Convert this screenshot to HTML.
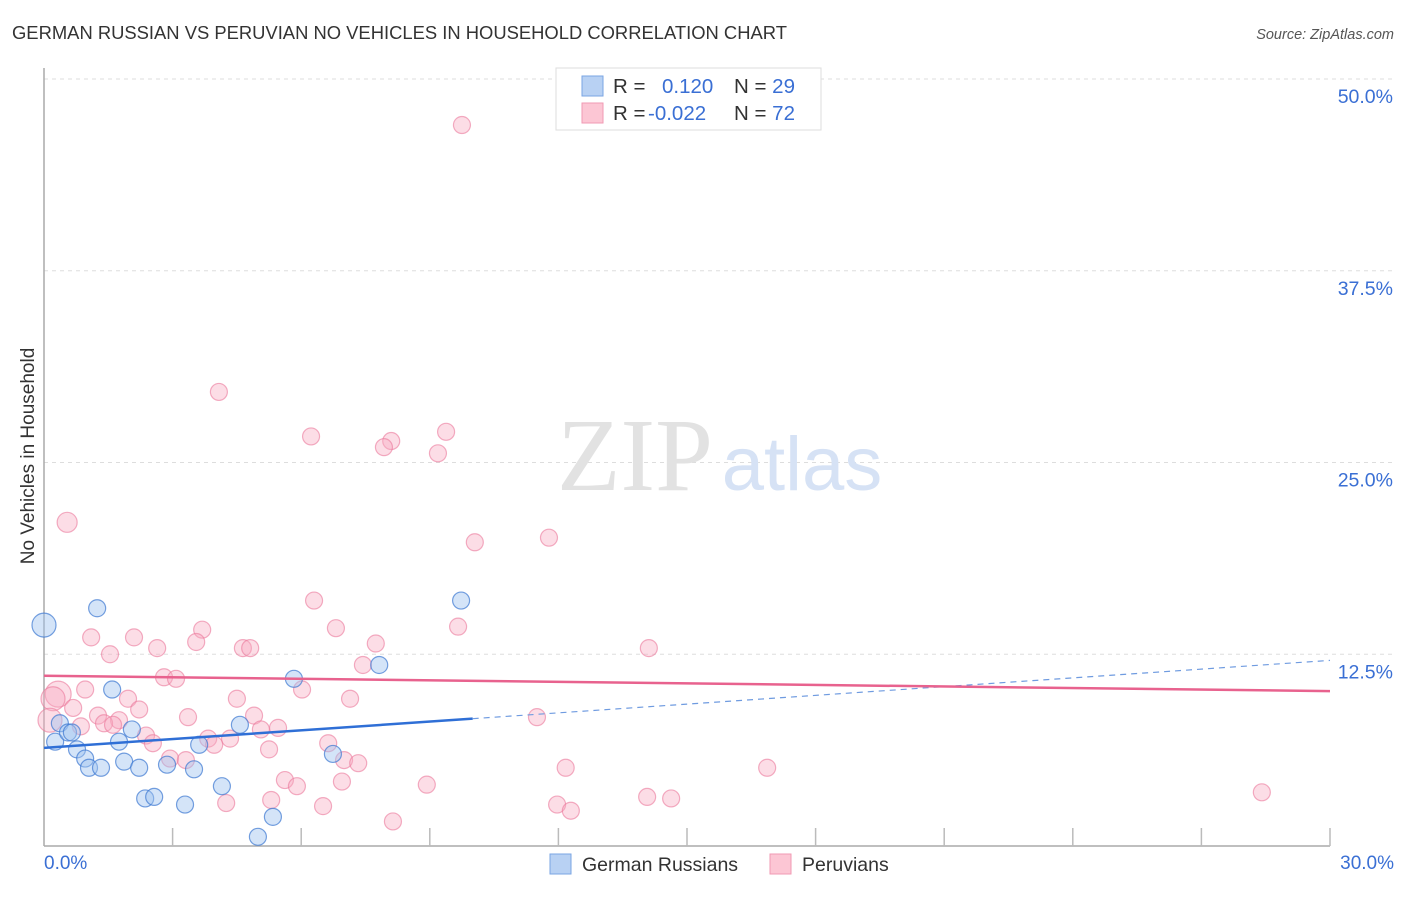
<!DOCTYPE html>
<html><head><meta charset="utf-8"><style>
body{margin:0;background:#fff;font-family:"Liberation Sans",sans-serif;}
</style></head><body>
<svg width="1406" height="892" xmlns="http://www.w3.org/2000/svg">
<text x="12" y="39" font-size="18.4" fill="#333">GERMAN RUSSIAN VS PERUVIAN NO VEHICLES IN HOUSEHOLD CORRELATION CHART</text>
<text x="1394" y="39" font-size="14.5" fill="#555" font-style="italic" text-anchor="end">Source: ZipAtlas.com</text>
<g id="grid"></g>
<line x1="44" y1="68" x2="44" y2="846" stroke="#aaa" stroke-width="1.5"/>
<line x1="44" y1="846" x2="1330" y2="846" stroke="#aaa" stroke-width="1.5"/>
<g id="xticks"></g>
<text x="635" y="490" font-size="104" fill="#e2e2e2" font-family="Liberation Serif,serif" text-anchor="middle">ZIP</text>
<text x="802" y="490" font-size="76" fill="#d6e2f5" text-anchor="middle">atlas</text>
<g id="pts"></g>
<g id="trend"></g>
<text transform="translate(34,456) rotate(-90)" font-size="19" fill="#333" text-anchor="middle">No Vehicles in Household</text>
<text x="44" y="869" font-size="19" fill="#3a6fd4">0.0%</text>
<text x="1394" y="869" font-size="19" fill="#3a6fd4" text-anchor="end">30.0%</text>
<g>
<rect x="556" y="68" width="265" height="62" fill="#fff" stroke="#ddd"/>
<rect x="582" y="76" width="21" height="20" fill="#b8d1f3" stroke="#7aa5e3"/>
<rect x="582" y="103" width="21" height="20" fill="#fcc6d4" stroke="#f09ab3"/>
<text x="613" y="93" font-size="20.5" fill="#333">R = <tspan fill="#3a6fd4" x="662">0.120</tspan><tspan x="734" fill="#333">N = </tspan><tspan fill="#3a6fd4">29</tspan></text>
<text x="613" y="120" font-size="20.5" fill="#333">R = <tspan fill="#3a6fd4" x="648">-0.022</tspan><tspan x="734" fill="#333">N = </tspan><tspan fill="#3a6fd4">72</tspan></text>
</g>
<g>
<rect x="550" y="854" width="21" height="20" fill="#b8d1f3" stroke="#7aa5e3"/>
<text x="582" y="871" font-size="19.5" fill="#333">German Russians</text>
<rect x="770" y="854" width="21" height="20" fill="#fcc6d4" stroke="#f09ab3"/>
<text x="802" y="871" font-size="19.5" fill="#333">Peruvians</text>
</g>
</svg>
<script>
const yTicks=[12.5,25,37.5,50];
const yTickLabels=["12.5%","25.0%","37.5%","50.0%"];
const xTicks=[3,6,9,12,15,18,21,24,27,30];
const blueX=[0,1.24,9.73,1.59,5.83,7.82,0.26,0.37,0.56,0.65,0.77,0.96,1.05,1.33,1.75,1.87,2.05,2.22,2.87,3.5,3.62,4.57,4.15,2.36,2.57,3.29,5.34,4.99,6.74];
const blueY=[14.4,15.5,16.0,10.2,10.9,11.8,6.8,8.0,7.4,7.4,6.3,5.7,5.1,5.1,6.8,5.5,7.6,5.1,5.3,5.0,6.6,7.9,3.9,3.1,3.2,2.7,1.9,0.6,6.0];
const blueR=[12,8.5,8.5,8.5,8.5,8.5,8.5,8.5,8.5,8.5,8.5,8.5,8.5,8.5,8.5,8.5,8.5,8.5,8.5,8.5,8.5,8.5,8.5,8.5,8.5,8.5,8.5,8.5,8.5];
const pinkX=[9.75,4.08,6.23,8.1,7.93,9.38,9.19,0.54,10.05,11.78,6.3,6.81,9.66,7.74,3.69,3.55,2.1,1.1,1.54,2.64,4.64,4.81,14.11,2.8,3.08,7.44,0.33,0.21,0.96,6.02,4.5,7.14,1.96,0.68,2.22,1.26,3.36,1.75,1.4,0.86,1.61,4.9,5.06,5.46,2.38,3.83,4.34,2.54,3.97,6.63,5.25,11.5,2.94,3.31,7.0,7.33,12.17,16.87,5.62,5.9,6.95,8.93,4.25,5.3,6.51,11.97,12.29,14.07,14.63,8.14,28.41,0.14];
const pinkY=[47.0,29.6,26.7,26.4,26.0,27.0,25.6,21.1,19.8,20.1,16.0,14.2,14.3,13.2,14.1,13.3,13.6,13.6,12.5,12.9,12.9,12.9,12.9,11.0,10.9,11.8,9.9,9.6,10.2,10.2,9.6,9.6,9.6,9.0,8.9,8.5,8.4,8.2,8.0,7.8,7.9,8.5,7.6,7.7,7.2,7.0,7.0,6.7,6.6,6.7,6.3,8.4,5.7,5.6,5.6,5.4,5.1,5.1,4.3,3.9,4.2,4.0,2.8,3.0,2.6,2.7,2.3,3.2,3.1,1.6,3.5,8.2];
const pinkR=[8.5,8.5,8.5,8.5,8.5,8.5,8.5,10,8.5,8.5,8.5,8.5,8.5,8.5,8.5,8.5,8.5,8.5,8.5,8.5,8.5,8.5,8.5,8.5,8.5,8.5,13,12,8.5,8.5,8.5,8.5,8.5,8.5,8.5,8.5,8.5,8.5,8.5,8.5,8.5,8.5,8.5,8.5,8.5,8.5,8.5,8.5,8.5,8.5,8.5,8.5,8.5,8.5,8.5,8.5,8.5,8.5,8.5,8.5,8.5,8.5,8.5,8.5,8.5,8.5,8.5,8.5,8.5,8.5,8.5,12];
const blueTrend=[[0,6.4],[10,8.3],[30,12.1]];
const pinkTrend=[[0,11.1],[30,10.1]];
const X0=44,X1=1330,Y0=846,YTOP=79;
const sx=v=>X0+(v/30)*(X1-X0);
const sy=v=>Y0-(v/50)*(Y0-YTOP);
const NS="http://www.w3.org/2000/svg";
function mk(tag,attrs,parent){const e=document.createElementNS(NS,tag);for(const k in attrs)e.setAttribute(k,attrs[k]);parent.appendChild(e);return e;}
const grid=document.getElementById('grid');
yTicks.forEach((t,i)=>{
 const l=mk('line',{x1:X0,x2:1394,y1:sy(t),y2:sy(t),stroke:'#ddd','stroke-dasharray':'4,4'},grid);
 
 
 const tx=mk('text',{x:1393,y:sy(t)+24,'font-size':19.5,fill:'#3a6fd4','text-anchor':'end'},grid);
 tx.textContent=yTickLabels[i];
 
 
});
const xt=document.getElementById('xticks');
xTicks.forEach(t=>{
 const l=mk('line',{x1:sx(t),x2:sx(t),y1:828,y2:846,stroke:'#bbb','stroke-width':1.5},xt);
 
 
});
const pts=document.getElementById('pts');
pinkX.forEach((x,i)=>{
 const c=mk('circle',{cx:sx(x),cy:sy(pinkY[i]),r:pinkR[i],fill:'rgba(248,170,192,0.4)',stroke:'rgba(235,120,155,0.6)','stroke-width':1.2},pts);
 
 
});
blueX.forEach((x,i)=>{
 const c=mk('circle',{cx:sx(x),cy:sy(blueY[i]),r:blueR[i],fill:'rgba(160,195,240,0.45)',stroke:'rgba(60,120,210,0.7)','stroke-width':1.2},pts);
 
 
});
const tr=document.getElementById('trend');
let l1=mk('line',{x1:sx(blueTrend[0][0]),y1:sy(blueTrend[0][1]),x2:sx(blueTrend[1][0]),y2:sy(blueTrend[1][1]),stroke:'#2f6fd6','stroke-width':2.5},tr);


let l2=mk('line',{x1:sx(blueTrend[1][0]),y1:sy(blueTrend[1][1]),x2:sx(blueTrend[2][0]),y2:sy(blueTrend[2][1]),stroke:'#6f9be0','stroke-width':1.2,'stroke-dasharray':'6,5'},tr);


let l3=mk('line',{x1:sx(pinkTrend[0][0]),y1:sy(pinkTrend[0][1]),x2:sx(pinkTrend[1][0]),y2:sy(pinkTrend[1][1]),stroke:'#e8628e','stroke-width':2.5},tr);


</script>
</body></html>
